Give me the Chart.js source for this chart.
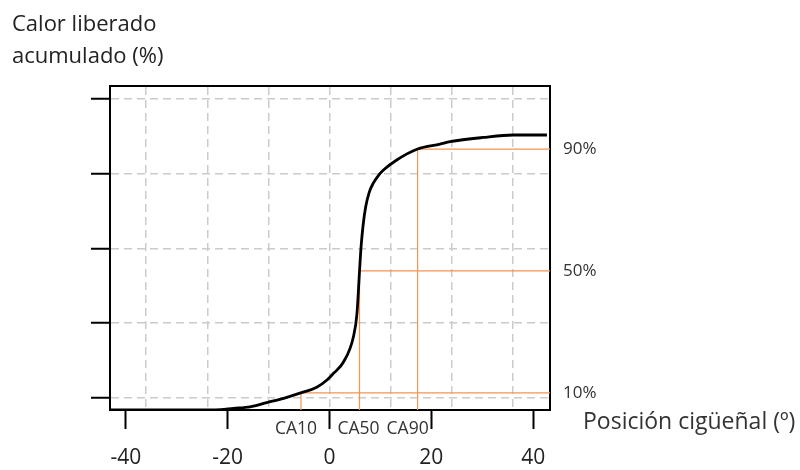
<!DOCTYPE html>
<html lang="es">
<head>
  <meta charset="UTF-8" />
  <title>Calor liberado acumulado</title>
  <script src="https://cdn.jsdelivr.net/npm/chart.js"></script>
  <style>
    body {
      margin: 0;
      padding: 0;
      background: #fff;
    }
    #wrap {
      width: 800px;
      height: 470px;
    }
  </style>
</head>
<body>
  <div id="wrap">
    <canvas id="heatChart" width="800" height="470"></canvas>
  </div>

  <script>
    // curve: crank angle (deg) vs cumulative heat released (%)
    const crankAngle = [-43, -22.4, -18.8, -15.6, -12.3, -9.0, -5.6, -2.5, -0.5, 0.8, 2.75, 4.7, 5.4, 5.9, 6.2, 6.6, 7.1, 7.8, 8.6, 9.6, 10.6, 13.2, 17.3, 21.7, 23.7, 30.2, 36.1, 42.7];
    const heatReleased = [4.4, 4.4, 4.9, 5.4, 6.8, 8.2, 10, 11.8, 14.2, 16.4, 20.1, 28.4, 36.1, 50, 57.9, 65, 71, 75.8, 78.8, 81.3, 83.1, 86.4, 90, 91.6, 92.4, 93.8, 94.6, 94.6];

    // CA10 / CA50 / CA90 markers
    const caNames = ['CA10', 'CA50', 'CA90'];
    const caAngle = [-5.6, 5.9, 17.3];
    const caLevel = [10, 50, 90];

    // axis ticks
    const xTickLabels = [-40, -20, 0, 20, 40];
    const xGridLines = [-36, -24, -12, 0, 12, 24, 36];
    const yGridLines = [8.4, 32.9, 57.4, 81.9, 106.4];

    const X_MIN = -43.1, X_MAX = 43.3;
    const Y_MIN = 4.36, Y_MAX = 110.78;

    const FONT = "'Open Sans', 'Noto Sans', sans-serif";
    const ORANGE = '#f39452';
    const GRID = '#cbcbcb';

    const caDatasets = caNames.map((name, i) => ({
      label: name,
      data: [
        { x: caAngle[i], y: Y_MIN },
        { x: caAngle[i], y: caLevel[i] },
        { x: X_MAX, y: caLevel[i] }
      ],
      borderColor: ORANGE,
      borderWidth: 1.2,
      pointRadius: 0,
      tension: 0
    }));

    // extra text: CA labels under the axis and the x axis name on the right
    const textPlugin = {
      id: 'sideText',
      afterDraw(chart) {
        const ctx = chart.ctx;
        const xs = chart.scales.x;
        const area = chart.chartArea;
        const shift = [-5, -1, -10];
        ctx.save();
        ctx.fillStyle = '#333';
        ctx.textBaseline = 'middle';
        ctx.textAlign = 'center';
        ctx.font = '17.5px ' + FONT;
        caNames.forEach((name, i) => {
          ctx.fillText(name, xs.getPixelForValue(caAngle[i]) + shift[i], area.bottom + 19);
        });
        ctx.textAlign = 'left';
        ctx.font = '23px ' + FONT;
        ctx.fillText('Posición cigüeñal (º)', area.right + 33, area.bottom + 12);
        ctx.restore();
      }
    };

    new Chart('heatChart', {
      type: 'line',
      data: {
        datasets: [
          {
            label: 'Calor liberado',
            data: crankAngle.map((a, i) => ({ x: a, y: heatReleased[i] })),
            borderColor: '#000',
            borderWidth: 2.8,
            pointRadius: 0,
            cubicInterpolationMode: 'monotone'
          },
          ...caDatasets
        ]
      },
      options: {
        responsive: false,
        animation: false,
        layout: { padding: { left: 12, right: 0, top: 0, bottom: 0 } },
        plugins: {
          legend: { display: false },
          tooltip: { enabled: false },
          title: {
            display: true,
            text: ['Calor liberado', 'acumulado (%)'],
            align: 'start',
            color: '#222',
            font: { family: FONT, size: 22, weight: 'normal', lineHeight: 1.48 },
            padding: { top: 8, bottom: 12.6 }
          }
        },
        scales: {
          x: {
            type: 'linear',
            position: 'bottom',
            min: X_MIN,
            max: X_MAX,
            afterBuildTicks: s => { s.ticks = xTickLabels.map(v => ({ value: v })); },
            afterFit: s => { s.height = 60; },
            grid: { drawOnChartArea: false, tickLength: 19, tickColor: '#000', tickWidth: 2 },
            border: { color: '#000', width: 2 },
            ticks: { color: '#222', padding: 16, maxRotation: 0, font: { family: FONT, size: 21 } }
          },
          xg: {
            type: 'linear',
            axis: 'x',
            position: 'top',
            min: X_MIN,
            max: X_MAX,
            afterBuildTicks: s => { s.ticks = xGridLines.map(v => ({ value: v })); },
            grid: { color: GRID, lineWidth: 1.5, drawTicks: false },
            border: { color: '#000', width: 2, dash: [8, 5] },
            ticks: { display: false }
          },
          y: {
            type: 'linear',
            position: 'left',
            min: Y_MIN,
            max: Y_MAX,
            afterBuildTicks: s => { s.ticks = yGridLines.map(v => ({ value: v })); },
            afterFit: s => { s.width = 98; },
            grid: { color: GRID, lineWidth: 1.5, tickLength: 19, tickColor: '#000', tickWidth: 2 },
            border: { color: '#000', width: 2, dash: [8, 5] },
            ticks: { display: false }
          },
          y2: {
            type: 'linear',
            position: 'right',
            min: Y_MIN,
            max: Y_MAX,
            afterBuildTicks: s => { s.ticks = caLevel.map(v => ({ value: v })); },
            afterFit: s => { s.width = 250; },
            grid: { display: false, drawTicks: false },
            border: { color: '#000', width: 2 },
            ticks: {
              color: '#333',
              padding: 13,
              font: { family: FONT, size: 17 },
              callback: v => v + '%'
            }
          }
        }
      },
      plugins: [textPlugin]
    });
  </script>
</body>
</html>
